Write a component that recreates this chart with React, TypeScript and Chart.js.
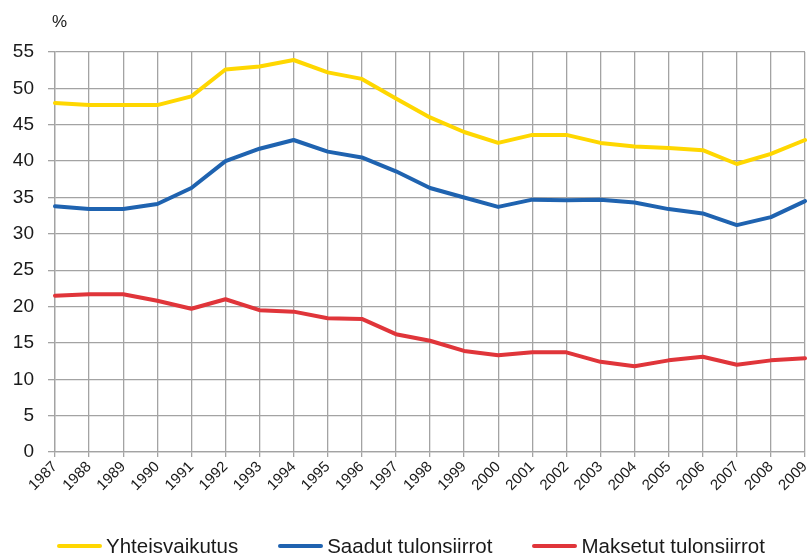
import React, { useEffect, useRef } from "react";
import { Chart, registerables } from "chart.js";

Chart.register(...registerables);

const years = [
  "1987", "1988", "1989", "1990", "1991", "1992", "1993", "1994", "1995", "1996", "1997", "1998",
  "1999", "2000", "2001", "2002", "2003", "2004", "2005", "2006", "2007", "2008", "2009",
];

const yhteisvaikutus = [
  48.0, 47.7, 47.7, 47.7, 48.9, 52.6, 53.0, 53.9, 52.2, 51.3, 48.6, 46.0,
  44.0, 42.5, 43.6, 43.6, 42.5, 42.0, 41.8, 41.5, 39.6, 41.0, 42.9,
];

const saadutTulonsiirrot = [
  33.8, 33.4, 33.4, 34.1, 36.3, 40.0, 41.7, 42.9, 41.3, 40.5, 38.6, 36.3,
  35.0, 33.7, 34.7, 34.6, 34.7, 34.3, 33.4, 32.8, 31.2, 32.3, 34.5,
];

const maksetutTulonsiirrot = [
  21.5, 21.7, 21.7, 20.8, 19.7, 21.0, 19.5, 19.3, 18.4, 18.3, 16.2, 15.3,
  13.9, 13.3, 13.7, 13.7, 12.4, 11.8, 12.6, 13.1, 12.0, 12.6, 12.9,
];

const seriesNames = ["Yhteisvaikutus", "Saadut tulonsiirrot", "Maksetut tulonsiirrot"];
const seriesColors = ["#FFD700", "#1F63B0", "#E0353A"];

const yMin = 0;
const yMax = 55;
const yStep = 5;
const unitLabel = "%";

const FONT = '"Liberation Sans", Arial, sans-serif';
const GRID = "#a3a3a3";

export default function App() {
  const canvasRef = useRef<HTMLCanvasElement | null>(null);

  useEffect(() => {
    if (!canvasRef.current) return;
    const values = [yhteisvaikutus, saadutTulonsiirrot, maksetutTulonsiirrot];
    const chart = new Chart(canvasRef.current, {
      type: "line",
      data: {
        labels: years,
        datasets: seriesNames.map((name, i) => ({
          label: name,
          data: values[i],
          borderColor: seriesColors[i],
          backgroundColor: seriesColors[i],
          borderWidth: 4,
          pointRadius: 0,
          tension: 0,
          borderJoinStyle: "round" as const,
          borderCapStyle: "round" as const,
        })),
      },
      options: {
        animation: false,
        responsive: false,
        maintainAspectRatio: false,
        layout: { padding: { top: 52, right: 2, bottom: 0, left: 0 } },
        plugins: {
          legend: { display: false },
          tooltip: { enabled: false },
          title: { display: false },
        },
        scales: {
          x: {
            type: "category",
            offset: false,
            grid: { color: GRID, lineWidth: 1.3, tickLength: 5, drawTicks: true },
            border: { color: GRID, width: 1.3 },
            ticks: {
              autoSkip: false,
              maxRotation: 45,
              minRotation: 45,
              padding: 1,
              color: "#1a1a1a",
              font: { family: FONT, size: 15 },
            },
            afterFit: (scale: any) => {
              scale.height = 105;
              scale.paddingRight = 0;
              scale.paddingLeft = 0;
            },
          },
          y: {
            min: yMin,
            max: yMax,
            grid: { color: GRID, lineWidth: 1.3, tickLength: 7, drawTicks: true },
            border: { color: GRID, width: 1.3 },
            ticks: {
              stepSize: yStep,
              padding: 14,
              color: "#1a1a1a",
              font: { family: FONT, size: 19 },
            },
            afterFit: (scale: any) => {
              scale.width = 55;
              scale.paddingTop = 0;
              scale.paddingBottom = 0;
            },
          },
        },
      },
    });
    return () => chart.destroy();
  }, []);

  return (
    <div style={{ position: "absolute", left: 0, top: 0, width: 807, height: 557, background: "#fff", fontFamily: FONT }}>
      <canvas ref={canvasRef} width={807} height={557} style={{ display: "block" }} />
      <span style={{ position: "absolute", left: 52, top: 12, fontSize: 17, color: "#1a1a1a", lineHeight: "20px" }}>
        {unitLabel}
      </span>
      <div
        style={{
          position: "absolute",
          left: 57,
          top: 534,
          height: 24,
          display: "flex",
          alignItems: "center",
          gap: 40,
          whiteSpace: "nowrap",
        }}
      >
        {seriesNames.map((name, i) => (
          <div key={name} style={{ display: "flex", alignItems: "center" }}>
            <span
              style={{
                display: "inline-block",
                width: 45,
                height: 4,
                borderRadius: 2,
                background: seriesColors[i],
                marginRight: 4,
              }}
            />
            <span style={{ fontSize: 20.5, color: "#1a1a1a", lineHeight: "24px" }}>{name}</span>
          </div>
        ))}
      </div>
    </div>
  );
}
